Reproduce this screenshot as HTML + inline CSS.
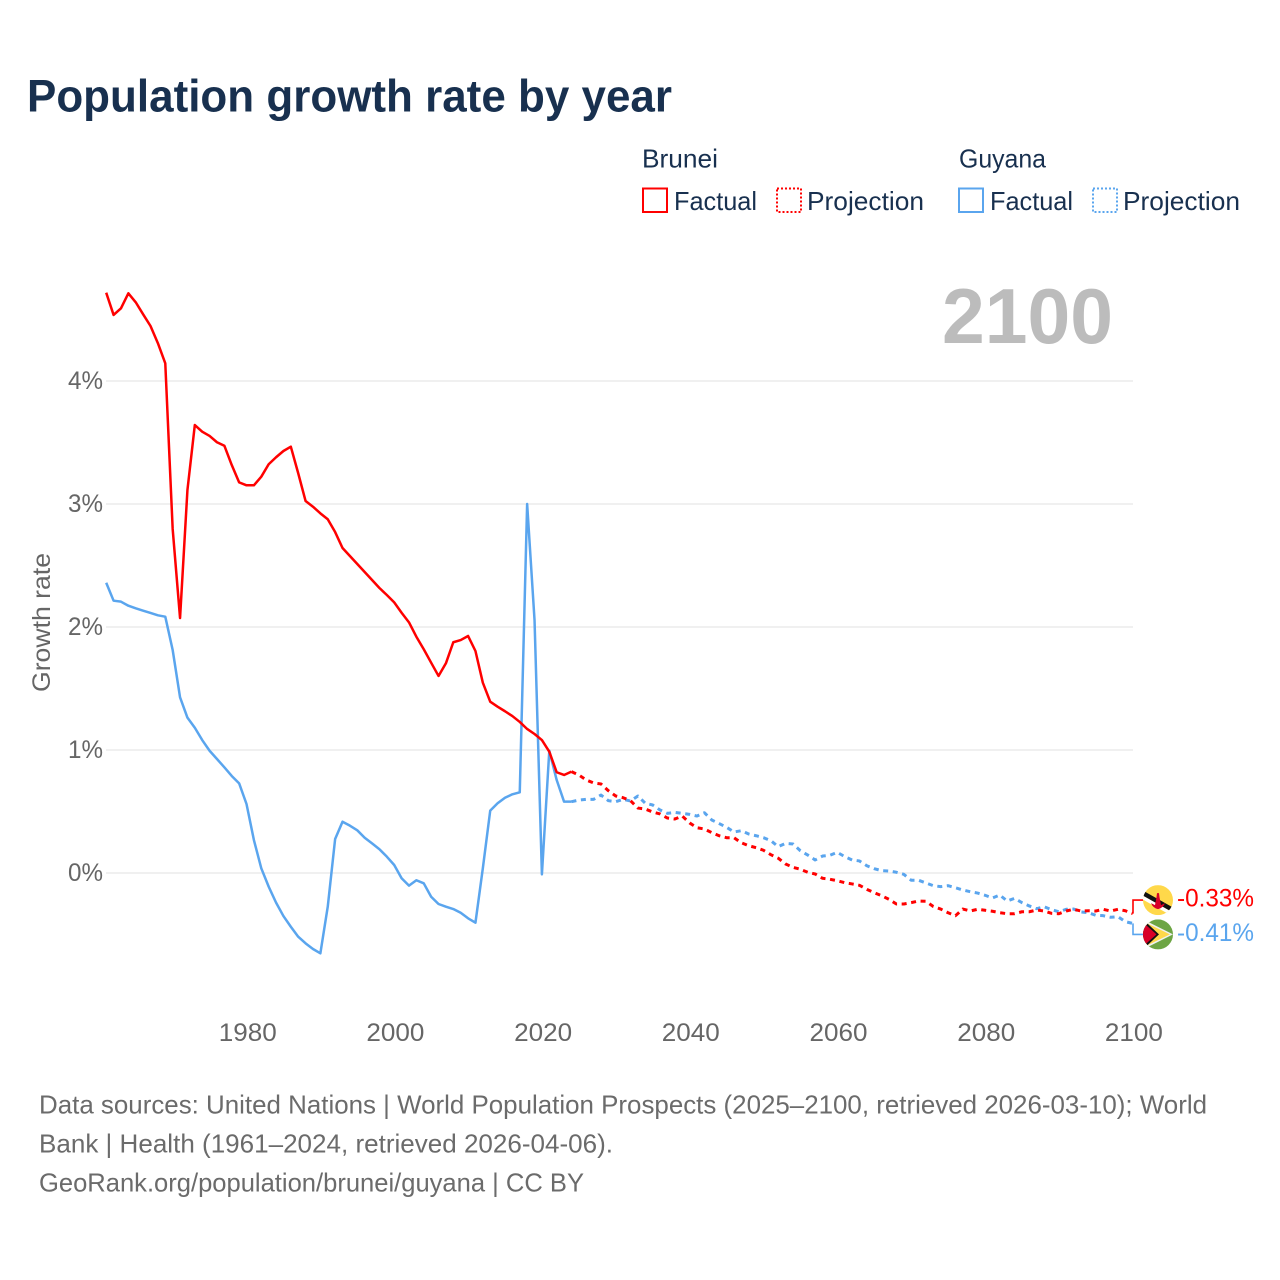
<!DOCTYPE html>
<html lang="en">
<head>
<meta charset="utf-8">
<title>Population growth rate by year</title>
<style>
html,body{margin:0;padding:0;background:#fff;width:1280px;height:1280px;overflow:hidden}
svg{display:block}
text{font-family:"Liberation Sans",Arial,sans-serif}
</style>
</head>
<body>
<svg id="chart" xmlns="http://www.w3.org/2000/svg" width="1280" height="1280" viewBox="0 0 1280 1280">
  <rect x="0" y="0" width="1280" height="1280" fill="#fff"/>
  <text x="27" y="111.5" font-size="45" font-weight="700" fill="#18304f" textLength="645" lengthAdjust="spacingAndGlyphs">Population growth rate by year</text>

  <g font-size="26" fill="#18304f">
    <text x="642" y="167.5" textLength="76" lengthAdjust="spacingAndGlyphs">Brunei</text>
    <text x="959" y="167.5" textLength="87" lengthAdjust="spacingAndGlyphs">Guyana</text>
    <rect x="643" y="188.5" width="24" height="23.5" fill="none" stroke="#ff0000" stroke-width="2"/>
    <text x="674" y="210" textLength="83" lengthAdjust="spacingAndGlyphs">Factual</text>
    <rect x="777" y="188.5" width="24" height="23.5" fill="none" stroke="#ff0000" stroke-width="2" stroke-dasharray="2 2"/>
    <text x="807" y="210" textLength="117" lengthAdjust="spacingAndGlyphs">Projection</text>
    <rect x="959" y="188.5" width="24" height="23.5" fill="none" stroke="#5aa5ee" stroke-width="2"/>
    <text x="990" y="210" textLength="83" lengthAdjust="spacingAndGlyphs">Factual</text>
    <rect x="1093" y="188.5" width="24" height="23.5" fill="none" stroke="#5aa5ee" stroke-width="2" stroke-dasharray="2 2"/>
    <text x="1123" y="210" textLength="117" lengthAdjust="spacingAndGlyphs">Projection</text>
  </g>

  <text x="942" y="343" font-size="78" font-weight="700" fill="#bcbcbc" textLength="171" lengthAdjust="spacingAndGlyphs">2100</text>
  <text transform="translate(50,692) rotate(-90)" font-size="25" fill="#666" textLength="139" lengthAdjust="spacingAndGlyphs">Growth rate</text>

  <g id="grid"></g>
  <g id="yLabels"></g>
  <g id="xLabels"></g>
  <g id="series"></g>

  <g id="flagBrunei">
    <defs><clipPath id="flagClip"><circle cx="0" cy="0" r="15"/></clipPath></defs>
    <g clip-path="url(#flagClip)">
      <rect x="-15" y="-15" width="30" height="30" fill="#ffd84a"/>
      <polygon points="-16,-5 16,13 16,17 -16,-1" fill="#ffffff"/>
      <polygon points="-16,-10 16,8 16,13 -16,-5" fill="#111111"/>
      <path d="M-7,3 Q-5,8 0,9 Q5,8 7,3 L3,5 L1.5,-3 L1,-7 L-1,-7 L-1.5,-3 L-3,5 Z" fill="#d80027"/>
    </g>
  </g>
  <g id="flagGuyana">
    <g clip-path="url(#flagClip)">
      <rect x="-15" y="-15" width="30" height="30" fill="#6da544"/>
      <polygon points="-15,-15 15,0 -15,15" fill="#f0f0f0"/>
      <polygon points="-15,-13 12,0 -15,13" fill="#ffd84a"/>
      <polygon points="-15,-15 1,0 -15,15" fill="#111111"/>
      <polygon points="-15,-12 -1.5,0 -15,12" fill="#d80027"/>
    </g>
  </g>

  <g font-size="26" fill="#6b6b6b">
    <text x="39" y="1113.5" textLength="1168" lengthAdjust="spacingAndGlyphs">Data sources: United Nations | World Population Prospects (2025–2100, retrieved 2026-03-10); World</text>
    <text x="39" y="1152.5" textLength="574" lengthAdjust="spacingAndGlyphs">Bank | Health (1961–2024, retrieved 2026-04-06).</text>
    <text x="39" y="1191.5" textLength="545" lengthAdjust="spacingAndGlyphs">GeoRank.org/population/brunei/guyana | CC BY</text>
  </g>
</svg>
<script>
const factualStartYear = 1961;
const projectionStartYear = 2024;
const xTickYears = [1980, 2000, 2020, 2040, 2060, 2080, 2100];
const yTickValues = [0, 1, 2, 3, 4];

const bruneiFactual = [4.718,4.537,4.591,4.713,4.640,4.542,4.447,4.307,4.144,2.797,2.073,3.114,3.642,3.588,3.553,3.502,3.474,3.317,3.176,3.152,3.152,3.222,3.323,3.380,3.431,3.466,3.250,3.024,2.978,2.924,2.876,2.772,2.642,2.577,2.512,2.447,2.382,2.317,2.260,2.200,2.116,2.038,1.921,1.819,1.710,1.602,1.705,1.876,1.894,1.927,1.805,1.547,1.393,1.352,1.315,1.276,1.228,1.171,1.130,1.081,0.986,0.819,0.797,0.824];
const bruneiProjection = [0.824,0.797,0.756,0.732,0.724,0.669,0.626,0.612,0.588,0.528,0.520,0.496,0.480,0.447,0.439,0.463,0.407,0.368,0.358,0.328,0.303,0.287,0.287,0.246,0.222,0.206,0.185,0.149,0.120,0.073,0.046,0.030,0.006,-0.008,-0.043,-0.051,-0.063,-0.079,-0.089,-0.100,-0.133,-0.160,-0.185,-0.214,-0.252,-0.252,-0.241,-0.228,-0.230,-0.272,-0.293,-0.323,-0.347,-0.293,-0.309,-0.295,-0.303,-0.311,-0.323,-0.331,-0.331,-0.315,-0.315,-0.301,-0.309,-0.328,-0.331,-0.309,-0.295,-0.309,-0.307,-0.309,-0.295,-0.309,-0.295,-0.307,-0.33];
const guyanaFactual = [2.360,2.214,2.206,2.173,2.152,2.133,2.114,2.095,2.084,1.813,1.428,1.263,1.181,1.081,0.994,0.927,0.859,0.789,0.729,0.561,0.268,0.038,-0.111,-0.241,-0.350,-0.437,-0.518,-0.572,-0.618,-0.653,-0.274,0.276,0.417,0.385,0.347,0.287,0.241,0.193,0.133,0.065,-0.043,-0.103,-0.059,-0.084,-0.193,-0.252,-0.274,-0.293,-0.323,-0.368,-0.404,0.038,0.507,0.567,0.612,0.640,0.656,3.0,2.057,-0.011,0.994,0.756,0.580,0.580];
const guyanaProjection = [0.580,0.593,0.599,0.599,0.634,0.588,0.580,0.599,0.585,0.626,0.567,0.553,0.512,0.485,0.493,0.485,0.477,0.463,0.490,0.431,0.402,0.372,0.333,0.344,0.317,0.303,0.287,0.263,0.214,0.241,0.236,0.181,0.146,0.106,0.138,0.144,0.168,0.133,0.106,0.098,0.059,0.035,0.019,0.016,0.006,-0.011,-0.059,-0.059,-0.081,-0.103,-0.111,-0.103,-0.120,-0.138,-0.152,-0.163,-0.181,-0.203,-0.179,-0.228,-0.206,-0.241,-0.268,-0.290,-0.274,-0.298,-0.315,-0.295,-0.293,-0.317,-0.323,-0.344,-0.347,-0.360,-0.355,-0.396,-0.41];

const NS = 'http://www.w3.org/2000/svg';
const RED = '#ff0000';
const BLUE = '#5aa5ee';
const xScale = function (year) { return 106.2 + (year - 1961) * 7.385; };
const yScale = function (value) { return 873 - value * 123; };
const mk = function (tag, parent) {
  const el = document.createElementNS(NS, tag);
  parent.appendChild(el);
  return el;
};

const grid = document.getElementById('grid');
const yLabels = document.getElementById('yLabels');
yTickValues.forEach(function (v) {
  const line = mk('line', grid);
  
  
  line.setAttribute('x1', 106);
  line.setAttribute('x2', 1133);
  line.setAttribute('y1', yScale(v));
  line.setAttribute('y2', yScale(v));
  line.setAttribute('stroke', '#ececec');
  line.setAttribute('stroke-width', '1.5');
  const t = mk('text', yLabels);
  
  
  t.setAttribute('x', 68);
  t.setAttribute('y', yScale(v) + 8);
  t.setAttribute('font-size', '25');
  t.setAttribute('fill', '#666');
  t.setAttribute('textLength', '35');
  t.setAttribute('lengthAdjust', 'spacingAndGlyphs');
  t.textContent = v + '%';
});

const xLabels = document.getElementById('xLabels');
xTickYears.forEach(function (yr) {
  const t = mk('text', xLabels);
  
  
  t.setAttribute('x', xScale(yr) - 27.8);
  t.setAttribute('y', 1041);
  t.setAttribute('font-size', '25');
  t.setAttribute('fill', '#666');
  t.setAttribute('textLength', '58');
  t.setAttribute('lengthAdjust', 'spacingAndGlyphs');
  t.textContent = yr;
});

const seriesGroup = document.getElementById('series');
const drawLine = function (values, startYear, color, dashed, name) {
  const d = values.map(function (v, i) {
    return (i ? 'L' : 'M') + xScale(startYear + i).toFixed(2) + ',' + yScale(v).toFixed(2);
  }).join(' ');
  const p = mk('path', seriesGroup);
  
  
  p.setAttribute('d', d);
  p.setAttribute('fill', 'none');
  p.setAttribute('stroke', color);
  p.setAttribute('stroke-width', dashed ? '3' : '2.5');
  p.setAttribute('stroke-linejoin', 'round');
  if (dashed) { p.setAttribute('stroke-dasharray', '5 4.6'); }
};
drawLine(guyanaFactual, factualStartYear, BLUE, false, 'guyana-factual-line');
drawLine(guyanaProjection, projectionStartYear, BLUE, true, 'guyana-projection-line');
drawLine(bruneiFactual, factualStartYear, RED, false, 'brunei-factual-line');
drawLine(bruneiProjection, projectionStartYear, RED, true, 'brunei-projection-line');

const drawEnd = function (values, color, shift, flagId, name) {
  const last = values[values.length - 1];
  const yEnd = yScale(last);
  const yLab = yEnd + shift;
  const leader = mk('path', seriesGroup);
  
  
  leader.setAttribute('d', 'M1133,' + yEnd.toFixed(2) + ' V' + yLab.toFixed(2) + ' H1143');
  leader.setAttribute('fill', 'none');
  leader.setAttribute('stroke', color);
  leader.setAttribute('stroke-width', '1.6');
  document.getElementById(flagId).setAttribute('transform', 'translate(1158,' + yLab.toFixed(2) + ')');
  const t = mk('text', seriesGroup);
  
  
  t.setAttribute('x', 1177);
  t.setAttribute('y', yLab + 6.5);
  t.setAttribute('font-size', '25');
  t.setAttribute('fill', color);
  t.setAttribute('textLength', '77');
  t.setAttribute('lengthAdjust', 'spacingAndGlyphs');
  t.textContent = last.toFixed(2) + '%';
};
drawEnd(bruneiProjection, RED, -13.5, 'flagBrunei', 'brunei');
drawEnd(guyanaProjection, BLUE, 11, 'flagGuyana', 'guyana');
</script>
</body>
</html>
